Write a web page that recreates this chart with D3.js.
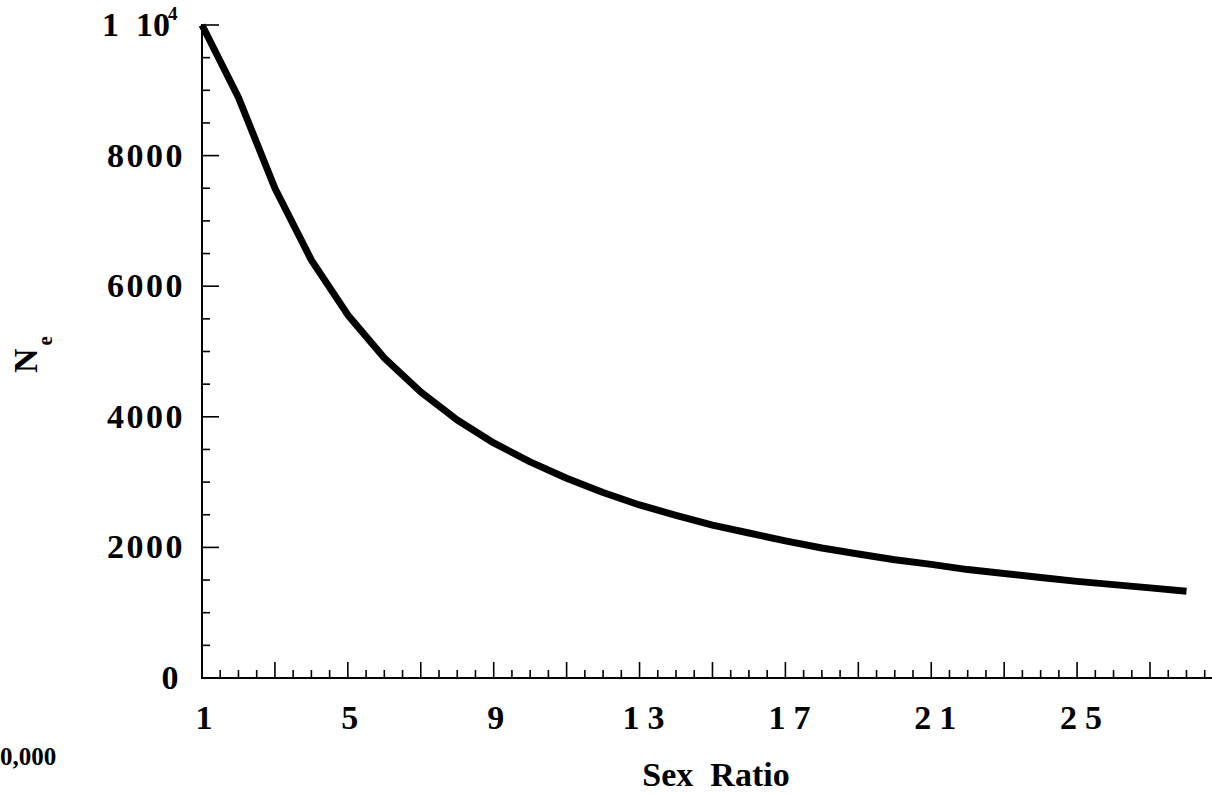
<!DOCTYPE html>
<html>
<head>
<meta charset="utf-8">
<script src="https://cdn.jsdelivr.net/npm/d3@7"></script>
<style>
  body { margin: 0; background: #fff; }
  svg { display: block; }
  text { font-family: "Liberation Serif", "Times New Roman", serif; font-weight: bold; fill: #000; }
</style>
</head>
<body>
<svg id="chart" width="1212" height="794"></svg>
<script>
// values
let ratio = [1, 2, 3, 4, 5, 6, 7, 8, 9, 10, 11, 12, 13, 14, 15, 16, 17, 18, 19, 20, 21, 22, 23, 24, 25, 26, 27, 28]
let ne = [10000, 8890, 7500, 6400, 5560, 4900, 4380, 3950, 3600, 3310, 3060, 2840, 2650, 2490,
  2340, 2220, 2100, 1990, 1900, 1810, 1740, 1660, 1600, 1540, 1480, 1430, 1380, 1330]
let xLabels = [1, 5, 9, 13, 17, 21, 25]
let yLabels = [0, 2000, 4000, 6000, 8000]

let svg = d3.select('#chart')

let x = d3.scaleLinear().domain([1, 28.7]).range([202, 1212])
let y = d3.scaleLinear().domain([0, 10000]).range([678, 25])

// axis lines
svg.append('line').attr('x1', 202).attr('x2', 1212).attr('y1', 678).attr('y2', 678)
  .attr('stroke', '#000').attr('stroke-width', 2)
svg.append('line').attr('x1', 202).attr('x2', 202).attr('y1', 24).attr('y2', 679)
  .attr('stroke', '#000').attr('stroke-width', 2)

// x ticks (pointing up into the plot)
let xMinor = d3.range(1.5, 28.7, 0.5).filter(d => (d - 1) % 2 !== 0)
let xMajor = d3.range(3, 28.7, 2)
svg.append('g').selectAll('line').data(xMinor).enter().append('line')
  .attr('x1', d => x(d)).attr('x2', d => x(d)).attr('y1', 678).attr('y2', 670)
  .attr('stroke', '#000').attr('stroke-width', 1.6)
svg.append('g').selectAll('line').data(xMajor).enter().append('line')
  .attr('x1', d => x(d)).attr('x2', d => x(d)).attr('y1', 678).attr('y2', 662)
  .attr('stroke', '#000').attr('stroke-width', 1.6)

// y ticks (pointing right into the plot)
let yMinor = d3.range(500, 10001, 500).filter(d => d % 2000 !== 0)
let yMajor = d3.range(2000, 10001, 2000)
svg.append('g').selectAll('line').data(yMinor).enter().append('line')
  .attr('x1', 202).attr('x2', 210).attr('y1', d => y(d)).attr('y2', d => y(d))
  .attr('stroke', '#000').attr('stroke-width', 1.6)
svg.append('g').selectAll('line').data(yMajor).enter().append('line')
  .attr('x1', 202).attr('x2', 219).attr('y1', d => y(d)).attr('y2', d => y(d))
  .attr('stroke', '#000').attr('stroke-width', 1.6)

// x tick labels
svg.append('g').selectAll('text').data(xLabels).enter().append('text')
  .attr('x', d => x(d) + (d > 9 ? 8 : 2))
  .attr('y', 729)
  .attr('text-anchor', 'middle')
  .style('font-size', '34px')
  .style('letter-spacing', d => d > 9 ? '8px' : '0px')
  .text(d => d)

// y tick labels
svg.append('g').selectAll('text').data(yLabels).enter().append('text')
  .attr('x', d => d === 0 ? 181 : 185)
  .attr('y', d => y(d) + 11)
  .attr('text-anchor', 'end')
  .style('font-size', '34px')
  .style('letter-spacing', '2.5px')
  .text(d => d)

// top label: 1 10^4
let topLabel = svg.append('text').attr('y', 36).style('font-size', '34px')
topLabel.append('tspan').attr('x', 102).text('1')
topLabel.append('tspan').attr('x', 136).text('10')
topLabel.append('tspan').attr('x', 168).attr('y', 20).style('font-size', '19px').text('4')

// the curve
let line = d3.line().x((d, i) => x(ratio[i])).y(d => y(d))
svg.append('path').datum(ne)
  .attr('d', line)
  .attr('fill', 'none')
  .attr('stroke', '#000')
  .attr('stroke-width', 7)
  .attr('stroke-linejoin', 'round')

// axis titles
svg.append('text').attr('x', 716).attr('y', 786)
  .attr('text-anchor', 'middle')
  .attr('xml:space', 'preserve')
  .style('white-space', 'pre')
  .style('font-size', '34px')
  .text('Sex  Ratio')

let yt = svg.append('text').attr('transform', 'translate(37,373) rotate(-90)')
  .style('font-size', '34px')
yt.append('tspan').text('N')
yt.append('tspan').attr('dx', 3).attr('dy', 15).style('font-size', '21px').text('e')

// stray fragment at lower left
svg.append('text').attr('x', 0).attr('y', 765).style('font-size', '25px').text('0,000')
</script>
</body>
</html>
